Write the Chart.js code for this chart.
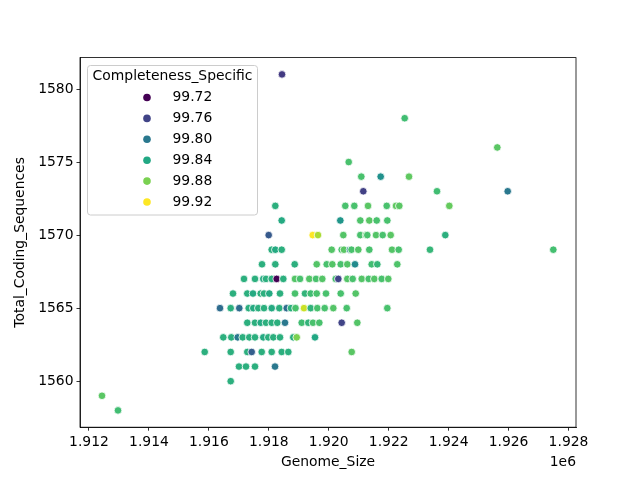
<!DOCTYPE html>
<html>
<head>
<meta charset="utf-8">
<script src="https://cdn.jsdelivr.net/npm/chart.js@4.4.0/dist/chart.umd.min.js"></script>
<style>
  html, body { margin: 0; padding: 0; background: #fff; }
  canvas { display: block; }
</style>
</head>
<body>
<canvas id="chart" width="640" height="480"></canvas>
<script>
// one entry per Total_Coding_Sequences level
const codingLevels = [1581, 1578, 1576, 1575, 1574, 1573, 1572, 1571, 1570, 1569, 1568,
                      1567, 1566, 1565, 1564, 1563, 1562, 1561, 1560, 1559, 1558];

const genomeSize = [
  [1918440],
  [1922534],
  [1925624],
  [1920666],
  [1921086, 1921733, 1922678],
  [1921153, 1923612, 1925971],
  [1918217, 1920552, 1920853, 1921310, 1921934, 1922244, 1922354, 1924023],
  [1918430, 1920386, 1921053, 1921353, 1921600, 1921954],
  [1917996, 1919464, 1919641, 1920486, 1921053, 1921243, 1921286, 1921577, 1921800, 1922067, 1923889],
  [1918096, 1918217, 1918430, 1920098, 1920432, 1920509, 1920709, 1920760, 1920986, 1921353, 1922111, 1922334, 1923378, 1927493],
  [1917773, 1918217, 1918864, 1919598, 1919932, 1920119, 1920399, 1920619, 1920876, 1921433, 1921620, 1922287],
  [1917172, 1917539, 1917816, 1917906, 1918096, 1918263, 1918484, 1918874, 1919041, 1919351, 1919575, 1919785, 1920232, 1920319, 1920619, 1920799, 1921100, 1921333, 1921520, 1921767, 1921987],
  [1916805, 1917282, 1917472, 1917729, 1917840, 1918016, 1918373, 1918874, 1919208, 1919398, 1919598, 1919908, 1920399, 1920899],
  [1916371, 1916728, 1917015, 1917329, 1917482, 1917649, 1917840, 1918096, 1918350, 1918597, 1918740, 1918891, 1919174, 1919398, 1919618, 1919865, 1920152, 1920599, 1921954],
  [1917282, 1917539, 1917729, 1917906, 1918096, 1918283, 1918540, 1919098, 1919318, 1919474, 1919685, 1920432, 1920953],
  [1916481, 1916748, 1916962, 1917129, 1917349, 1917539, 1917816, 1917983, 1918150, 1918373, 1918817, 1918931, 1919541],
  [1915861, 1916728, 1917282, 1917429, 1917763, 1918096, 1918430, 1918651, 1920766],
  [1917005, 1917239, 1917539, 1918207],
  [1916728],
  [1912434],
  [1912968]
];

const completeness = [
  [99.754],
  [99.858],
  [99.868],
  [99.862],
  [99.862, 99.820, 99.870],
  [99.758, 99.858, 99.800],
  [99.846, 99.862, 99.862, 99.868, 99.862, 99.870, 99.868, 99.872],
  [99.842, 99.824, 99.864, 99.868, 99.862, 99.862],
  [99.776, 99.920, 99.894, 99.866, 99.862, 99.868, 99.862, 99.866, 99.862, 99.868, 99.846],
  [99.846, 99.842, 99.846, 99.866, 99.862, 99.868, 99.810, 99.862, 99.866, 99.862, 99.866, 99.862, 99.852, 99.860],
  [99.846, 99.846, 99.846, 99.866, 99.862, 99.866, 99.862, 99.866, 99.815, 99.858, 99.852, 99.864],
  [99.846, 99.846, 99.842, 99.846, 99.846, 99.720, 99.846, 99.866, 99.862, 99.866, 99.862, 99.866, 99.862, 99.760, 99.866, 99.862, 99.866, 99.862, 99.866, 99.862, 99.866],
  [99.846, 99.846, 99.842, 99.846, 99.846, 99.842, 99.846, 99.862, 99.850, 99.858, 99.862, 99.862, 99.862, 99.866],
  [99.790, 99.846, 99.790, 99.846, 99.842, 99.846, 99.846, 99.842, 99.846, 99.790, 99.846, 99.862, 99.904, 99.850, 99.862, 99.862, 99.866, 99.862, 99.862],
  [99.846, 99.846, 99.842, 99.846, 99.846, 99.846, 99.800, 99.858, 99.850, 99.862, 99.862, 99.760, 99.866],
  [99.846, 99.846, 99.800, 99.846, 99.846, 99.846, 99.842, 99.846, 99.846, 99.846, 99.846, 99.880, 99.840],
  [99.846, 99.846, 99.846, 99.780, 99.846, 99.846, 99.846, 99.846, 99.868],
  [99.846, 99.846, 99.846, 99.800],
  [99.846],
  [99.868],
  [99.858]
];

const legendValues = [99.72, 99.76, 99.80, 99.84, 99.88, 99.92];
const xTicks = [1912000, 1914000, 1916000, 1918000, 1920000, 1922000, 1924000, 1926000, 1928000];
const yTicks = [1560, 1565, 1570, 1575, 1580];

const hueMin = 99.72, hueMax = 99.92;
const viridisStops = ['#440154', '#482475', '#414487', '#355f8d', '#2a788e', '#21918c',
                      '#22a884', '#44bf70', '#7ad151', '#bddf26', '#fde725'];

function hexRgb(h) {
  return [parseInt(h.slice(1, 3), 16), parseInt(h.slice(3, 5), 16), parseInt(h.slice(5, 7), 16)];
}

function viridis(v) {
  let t = (v - hueMin) / (hueMax - hueMin);
  t = Math.min(1, Math.max(0, t));
  const p = t * 10;
  const i = Math.min(9, Math.floor(p));
  const f = p - i;
  const a = hexRgb(viridisStops[i]), b = hexRgb(viridisStops[i + 1]);
  const c = a.map((x, k) => Math.round(x + (b[k] - x) * f));
  return `rgb(${c[0]}, ${c[1]}, ${c[2]})`;
}

const points = [];
const colors = [];
codingLevels.forEach((cds, r) => {
  genomeSize[r].forEach((g, k) => {
    points.push({ x: g, y: cds });
    colors.push(viridis(completeness[r][k]));
  });
});

const FONT = '"DejaVu Sans", sans-serif';
const tickFont = { family: FONT, size: 13.9 };

// top/right spines, offset text and the hue legend
const extras = {
  id: 'extras',
  afterDraw(chart) {
    const { ctx, chartArea: a } = chart;
    ctx.save();
    ctx.strokeStyle = '#000';
    ctx.lineWidth = 0.8;
    ctx.strokeRect(a.left, a.top, a.right - a.left, a.bottom - a.top);

    ctx.fillStyle = '#000';
    ctx.font = `13.9px ${FONT}`;
    ctx.textAlign = 'right';
    ctx.textBaseline = 'middle';
    ctx.fillText('1e6', a.right, 462);

    // legend box
    ctx.beginPath();
    ctx.roundRect(87.5, 65.5, 170, 149.5, 3);
    ctx.fillStyle = 'rgba(255,255,255,0.8)';
    ctx.fill();
    ctx.strokeStyle = '#cccccc';
    ctx.lineWidth = 1;
    ctx.stroke();

    ctx.fillStyle = '#000';
    ctx.textAlign = 'center';
    ctx.fillText('Completeness_Specific', 172.5, 76.5);

    legendValues.forEach((v, i) => {
      const y = 97.5 + i * 20.9;
      ctx.beginPath();
      ctx.arc(147, y, 3.8, 0, Math.PI * 2);
      ctx.fillStyle = viridis(v);
      ctx.fill();
      ctx.fillStyle = '#000';
      ctx.textAlign = 'left';
      ctx.fillText(v.toFixed(2), 172.5, y);
    });
    ctx.restore();
  }
};

new Chart(document.getElementById('chart'), {
  type: 'scatter',
  data: {
    datasets: [{
      data: points,
      pointBackgroundColor: colors,
      pointBorderColor: '#ffffff',
      pointBorderWidth: 0.8,
      pointRadius: 3.8,
      pointHoverRadius: 3.8
    }]
  },
  options: {
    responsive: false,
    animation: false,
    layout: { padding: { left: 0, top: 57.6, right: 64, bottom: 0 } },
    plugins: { legend: { display: false }, tooltip: { enabled: false } },
    scales: {
      x: {
        type: 'linear',
        min: 1911700,
        max: 1928250,
        afterBuildTicks: s => { s.ticks = xTicks.map(v => ({ value: v })); },
        afterFit: s => { s.height = 52.8; },
        ticks: {
          callback: v => (v / 1e6).toFixed(3),
          font: tickFont, color: '#000', padding: 3, maxRotation: 0, autoSkip: false
        },
        grid: { drawOnChartArea: false, drawTicks: true, tickLength: 3.5, tickColor: '#000', tickWidth: 0.8 },
        border: { display: true, color: '#000', width: 0.8 },
        title: { display: true, text: 'Genome_Size', font: tickFont, color: '#000', padding: { top: 0, bottom: 9 } }
      },
      y: {
        type: 'linear',
        min: 1556.85,
        max: 1582.15,
        afterBuildTicks: s => { s.ticks = yTicks.map(v => ({ value: v })); },
        afterFit: s => { s.width = 80; },
        ticks: {
          callback: v => String(v),
          font: tickFont, color: '#000', padding: 3, autoSkip: false
        },
        grid: { drawOnChartArea: false, drawTicks: true, tickLength: 3.5, tickColor: '#000', tickWidth: 0.8 },
        border: { display: true, color: '#000', width: 0.8 },
        title: { display: true, text: 'Total_Coding_Sequences', font: tickFont, color: '#000', padding: { top: 12.5, bottom: 0 } }
      }
    }
  },
  plugins: [extras]
});
</script>
</body>
</html>
